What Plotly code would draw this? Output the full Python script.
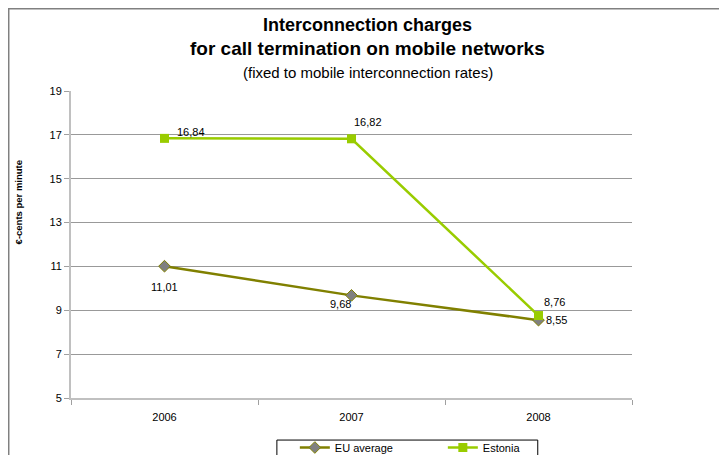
import plotly.graph_objects as go

years = ["2006", "2007", "2008"]
eu_average = [11.01, 9.68, 8.55]
estonia = [16.84, 16.82, 8.76]

# label offsets (px) for each data point, as placed in the original chart
eu_label_shift = [(0, -21), (-11, -9), (18, 0)]
est_label_shift = [(26, 6), (16, 17), (16, 14)]

font_main = "Liberation Sans Narrow, Arial Narrow, Liberation Sans, Arial, sans-serif"
font_ticks = "Liberation Sans, Arial, sans-serif"

eu_trace = go.Scatter(
    x=years, y=eu_average, name="EU average",
    mode="lines+markers",
    line=dict(color="#808000", width=2.5),
    marker=dict(symbol="diamond", size=9, color="#808080",
                line=dict(color="#808000", width=1)),
)
est_trace = go.Scatter(
    x=years, y=estonia, name="Estonia",
    mode="lines+markers",
    line=dict(color="#99cc00", width=2.5),
    marker=dict(symbol="square", size=9, color="#99cc00"),
)

fig = go.Figure(data=[eu_trace, est_trace])

# the page body has an 8px margin, so the figure is 8px smaller than the window
titles = [
    ("<b>Interconnection charges</b>", 1.215, 18),
    ("<b>for call termination on mobile networks</b>", 1.140, 19),
    ("(fixed to mobile interconnection rates)", 1.059, 15),
]
annotations = [
    dict(text=t, x=0.529, y=y, xref="paper", yref="paper",
         xanchor="center", yanchor="middle", showarrow=False,
         font=dict(family=font_main, size=s, color="#000000"))
    for t, y, s in titles
]
annotations.append(dict(
    text="<b>€-cents per minute</b>", x=-0.094, y=0.638, xref="paper", yref="paper",
    xanchor="center", yanchor="middle", showarrow=False, textangle=-90,
    font=dict(family=font_main, size=9.5, color="#000000")))

# value labels; category axis positions are given by index
for vals, shifts in [(eu_average, eu_label_shift), (estonia, est_label_shift)]:
    for i, (v, (dx, dy)) in enumerate(zip(vals, shifts)):
        annotations.append(dict(
            text=f"{v:.2f}".replace(".", ","), x=i, y=v, xref="x", yref="y",
            xshift=dx, yshift=dy, showarrow=False,
            font=dict(family=font_ticks, size=11, color="#000000")))

fig.update_layout(
    width=719, height=447,
    margin=dict(l=63, r=95, t=83, b=57, autoexpand=False),
    paper_bgcolor="white", plot_bgcolor="white",
    font=dict(family=font_ticks, size=11, color="#000000"),
    annotations=annotations,
    xaxis=dict(
        type="category", range=[-0.5, 2.5], tickson="boundaries",
        ticks="outside", ticklen=5, tickcolor="#a0a0a0",
        showline=True, linecolor="#c0c0c0", linewidth=2,
        showgrid=False, tickfont=dict(size=11), ticklabelstandoff=8,
        automargin=False,
    ),
    yaxis=dict(
        range=[5, 19], dtick=2, tick0=5,
        ticks="outside", ticklen=5, tickcolor="#a0a0a0",
        showline=True, linecolor="#c0c0c0", linewidth=2,
        showgrid=True, gridcolor="#999999", gridwidth=1,
        zeroline=False, tickfont=dict(size=11), automargin=False,
    ),
    legend=dict(
        orientation="h", x=0.399, xanchor="left", y=-0.114, yanchor="top",
        borderwidth=0, bgcolor="rgba(0,0,0,0)",
        entrywidth=103, font=dict(family=font_main, size=11),
    ),
    showlegend=True,
    shapes=[
        dict(type="rect", xref="paper", yref="paper",
             x0=-0.111, x1=1.3, y0=-0.3, y1=1.268,
             line=dict(color="#808080", width=1.5), fillcolor="rgba(0,0,0,0)",
             layer="below"),
        dict(type="rect", xref="paper", yref="paper",
             x0=0.367, x1=0.832, y0=-0.3, y1=-0.137,
             line=dict(color="#000000", width=1), fillcolor="white",
             layer="below"),
    ],
)

fig.write_html("out.html")
